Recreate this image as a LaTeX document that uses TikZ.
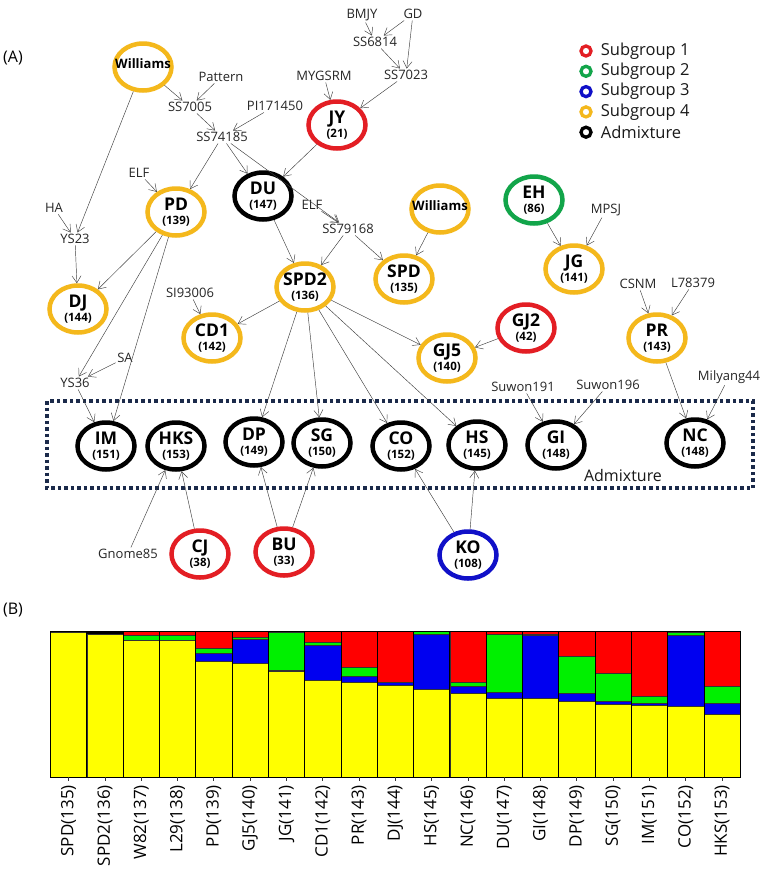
\documentclass[tikz,border=0pt]{standalone}
\usepackage{fontspec}
\setmainfont{Open Sans}
\usetikzlibrary{positioning,shapes.geometric,arrows.meta}
\definecolor{sgred}{HTML}{E31E24}
\definecolor{sggreen}{HTML}{12A54A}
\definecolor{sgblue}{HTML}{1010C8}
\definecolor{sggold}{HTML}{F4B81C}
\definecolor{boxnavy}{HTML}{1B2A4A}
\definecolor{barred}{HTML}{FF0000}
\definecolor{bargreen}{HTML}{00F000}
\definecolor{barblue}{HTML}{0000F0}
\definecolor{baryellow}{HTML}{FFFF00}
\newcommand{\popn}[2]{\makebox[0pt]{\raisebox{1.5pt}[0pt][0pt]{\fontsize{17.5}{17.5}\selectfont #1}}\makebox[0pt]{\raisebox{-12pt}[0pt][0pt]{\fontsize{11.5}{11.5}\selectfont(#2)}}}
\newcommand{\wlab}{\makebox[0pt]{\raisebox{-1.5pt}[0pt][0pt]{\fontsize{13}{13}\selectfont Williams}}}
\tikzset{grp/.style={ellipse, draw, line width=4.5pt, minimum width=57pt, minimum height=47pt, inner sep=0pt, font=\bfseries},
  sub1/.style={grp, draw=sgred},
  sub2/.style={grp, draw=sggreen},
  sub3/.style={grp, draw=sgblue},
  sub4/.style={grp, draw=sggold},
  admx/.style={grp, draw=black},
  lbl/.style={inner sep=1.5pt, text=black!85, font=\fontsize{13}{13}\selectfont},
  link/.style={->, draw=black!75, line width=0.45pt},
  keyring/.style={circle, line width=3.3pt, minimum size=10pt, inner sep=0pt},
  keytext/.style={inner sep=0pt, text=black!90, font=\fontsize{16.5}{16.5}\selectfont},
  tag/.style={font=\fontsize{16}{16}\selectfont},}

\begin{document}
\begin{tikzpicture}[x=1pt, y=-1pt, >={Straight Barb[length=7pt,width=9pt]}]
\useasboundingbox (0,0) rectangle (772,876);
\fill[white] (0,0) rectangle (772,876);

% (A) pedigree network
\node[tag] (tagA) at (13,58) {(A)};

% legend
\node[keyring, draw=sgred] (k1) at (586,51) {};
\node[keyring, draw=sggreen, below=7pt of k1] (k2) {};
\node[keyring, draw=sgblue, below=7pt of k2] (k3) {};
\node[keyring, draw=sggold, below=7pt of k3] (k4) {};
\node[keyring, draw=black, below=7pt of k4] (k5) {};
\node[keytext, right=8pt of k1] (t1) {Subgroup 1};
\node[keytext, right=8pt of k2] (t2) {Subgroup 2};
\node[keytext, right=8pt of k3] (t3) {Subgroup 3};
\node[keytext, right=8pt of k4] (t4) {Subgroup 4};
\node[keytext, right=8pt of k5] (t5) {Admixture};

% admixture box
\draw[boxnavy, line width=3.5pt, dash pattern=on 3.5pt off 3pt] (47,401) rectangle (753,488);
\node[keytext, font=\fontsize{16}{16}\selectfont] (admlbl) at (623,475) {Admixture};

% groups
\node[sub4] (wil1) at (143,67) {\wlab};
\node[sub1] (JY) at (337,125) {\popn{JY}{21}};
\node[admx] (DU) at (263,196) {\popn{DU}{147}};
\node[sub4] (PD) at (176,212) {\popn{PD}{139}};
\node[sub4] (DJ) at (78,309) {\popn{DJ}{144}};
\node[sub4] (CD1) at (212,338) {\popn{CD1}{142}};
\node[sub4] (SPD2) at (305,287) {\popn{SPD2}{136}};
\node[sub4] (wil2) at (440,209) {\wlab};
\node[sub4] (SPD) at (404,279) {\popn{SPD}{135}};
\node[sub2] (EH) at (534,200) {\popn{EH}{86}};
\node[sub4] (JG) at (574,269) {\popn{JG}{141}};
\node[sub4] (PR) at (657,338) {\popn{PR}{143}};
\node[sub1] (GJ2) at (526,328) {\popn{GJ2}{42}};
\node[sub4] (GJ5) at (447,358) {\popn{GJ5}{140}};
\node[admx] (IM) at (106,446) {\popn{IM}{151}};
\node[admx] (HKS) at (176,446) {\popn{HKS}{153}};
\node[admx] (DP) at (254,442) {\popn{DP}{149}};
\node[admx] (SG) at (322,443) {\popn{SG}{150}};
\node[admx] (CO) at (401,446) {\popn{CO}{152}};
\node[admx] (HS) at (477,445) {\popn{HS}{145}};
\node[admx] (GI) at (556,445) {\popn{GI}{148}};
\node[admx] (NC) at (695,443) {\popn{NC}{148}};
\node[sub1] (CJ) at (200,554) {\popn{CJ}{38}};
\node[sub1] (BU) at (284,552) {\popn{BU}{33}};
\node[sub3] (KO) at (468,555) {\popn{KO}{108}};

% cultivar labels
\node[lbl] (bmjy) at (362,15) {BMJY};
\node[lbl] (gd) at (413,14) {GD};
\node[lbl] (ss6814) at (375,42) {SS6814};
\node[lbl] (ss7023) at (406,75) {SS7023};
\node[lbl] (mygsrm) at (324,76) {MYGSRM};
\node[lbl] (pattern) at (221,77) {Pattern};
\node[lbl] (ss7005) at (190,107) {SS7005};
\node[lbl] (pi171450) at (275,106) {PI171450};
\node[lbl] (ss74185) at (222,137) {SS74185};
\node[lbl] (elfa) at (139,173) {ELF};
\node[lbl] (ha) at (54,208) {HA};
\node[lbl] (ys23) at (75,239) {YS23};
\node[lbl] (elfb) at (312,205) {ELF};
\node[lbl] (ss79168) at (348,229) {SS79168};
\node[lbl] (si93006) at (190,293) {SI93006};
\node[lbl] (sa) at (125,358) {SA};
\node[lbl] (ys36) at (75,383) {YS36};
\node[lbl] (mpsj) at (606,210) {MPSJ};
\node[lbl] (csnm) at (638,284) {CSNM};
\node[lbl] (l78379) at (693,283) {L78379};
\node[lbl] (suwona) at (523,387) {Suwon191};
\node[lbl] (suwonb) at (608,385) {Suwon196};
\node[lbl] (milyang) at (729,377) {Milyang44};
\node[lbl] (gnome) at (128,554) {Gnome85};

% crosses
\draw[link] (bmjy) -- (ss6814);
\draw[link] (gd) -- (ss6814);
\draw[link] (gd) -- (ss7023);
\draw[link] (ss6814) -- (ss7023);
\draw[link] (ss7023) -- (JY);
\draw[link] (mygsrm) -- (JY);
\draw[link] (wil1) -- (ss7005);
\draw[link] (pattern) -- (ss7005);
\draw[link] (ss7005) -- (ss74185);
\draw[link] (pi171450) -- (ss74185);
\draw[link] (ss74185) -- (PD);
\draw[link] (ss74185) -- (DU);
\draw[link] (ss74185) -- (ss79168);
\draw[link] (JY) -- (DU);
\draw[link] (elfa) -- (PD);
\draw[link] (wil1) -- (ys23);
\draw[link] (ha) -- (ys23);
\draw[link] (ys23) -- (DJ);
\draw[link] (PD) -- (DJ);
\draw[link] (PD) -- (ys36);
\draw[link] (sa) -- (ys36);
\draw[link] (ys36) -- (IM);
\draw[link] (PD) -- (IM);
\draw[link] (DU) -- (SPD2);
\draw[link] (elfb) -- (ss79168);
\draw[link] (ss79168) -- (SPD2);
\draw[link] (ss79168) -- (SPD);
\draw[link] (wil2) -- (SPD);
\draw[link] (si93006) -- (CD1);
\draw[link] (SPD2) -- (CD1);
\draw[link] (SPD2) -- (DP);
\draw[link] (SPD2) -- (SG);
\draw[link] (SPD2) -- (CO);
\draw[link] (SPD2) -- (HS);
\draw[link] (SPD2) -- (GJ5);
\draw[link] (GJ2) -- (GJ5);
\draw[link] (EH) -- (JG);
\draw[link] (mpsj) -- (JG);
\draw[link] (csnm) -- (PR);
\draw[link] (l78379) -- (PR);
\draw[link] (PR) -- (NC);
\draw[link] (milyang) -- (NC);
\draw[link] (suwona) -- (GI);
\draw[link] (suwonb) -- (GI);
\draw[link] (gnome) -- (HKS);
\draw[link] (CJ) -- (HKS);
\draw[link] (BU) -- (DP);
\draw[link] (BU) -- (SG);
\draw[link] (KO) -- (CO);
\draw[link] (KO) -- (HS);

% (B) structure bar plot
\node[tag] (tagB) at (13,610) {(B)};
\foreach \lab/\k/\r/\g/\b [count=\i from 0] in {SPD(135)/0.012/0/0/0, SPD2(136)/0.025/0/0/0,
    W82(137)/0/0.03/0.037/0, L29(138)/0/0.03/0.037/0, PD(139)/0/0.115/0.035/0.057,
    GJ5(140)/0/0.04/0.014/0.166, JG(141)/0/0.011/0.257/0.01, CD1(142)/0/0.076/0.02/0.24,
    PR(143)/0/0.25/0.057/0.044, DJ(144)/0/0.354/0/0.016, HS(145)/0/0.005/0.02/0.375,
    NC(146)/0/0.35/0.03/0.045, DU(147)/0/0.023/0.40/0.035, GI(148)/0/0.023/0.003/0.435,
    DP(149)/0/0.172/0.252/0.057, SG(150)/0/0.29/0.19/0.023, IM(151)/0/0.447/0.048/0.014,
    CO(152)/0/0.01/0.018/0.488, HKS(153)/0/0.38/0.112/0.076} {
  \pgfmathsetmacro{\xl}{50.5+\i*36.3}
  \pgfmathsetmacro{\xr}{\xl+36.3}
  \pgfmathsetmacro{\xc}{\xl+18.15}
  \pgfmathsetmacro{\ya}{631+146*\k}
  \pgfmathsetmacro{\yb}{\ya+146*\r}
  \pgfmathsetmacro{\yc}{\yb+146*\g}
  \pgfmathsetmacro{\yd}{\yc+146*\b}
  \fill[black] (\xl,631) rectangle (\xr,777);
  \filldraw[fill=barred, draw=black!80, line width=0.6pt] (\xl,\ya) rectangle (\xr,\yb);
  \filldraw[fill=bargreen, draw=black!80, line width=0.6pt] (\xl,\yb) rectangle (\xr,\yc);
  \filldraw[fill=barblue, draw=black!80, line width=0.6pt] (\xl,\yc) rectangle (\xr,\yd);
  \filldraw[fill=baryellow, draw=black!80, line width=0.6pt] (\xl,\yd) rectangle (\xr,777);
  \draw[black, line width=0.8pt] (\xl,631) rectangle (\xr,777);
  \draw[black!80, line width=0.8pt] (\xc,777) -- (\xc,781);
  \node[rotate=90, anchor=east, inner sep=0pt, font=\fontsize{17}{17}\selectfont] (bl\i) at (\xc,785) {\lab};
}
\end{tikzpicture}
\end{document}
